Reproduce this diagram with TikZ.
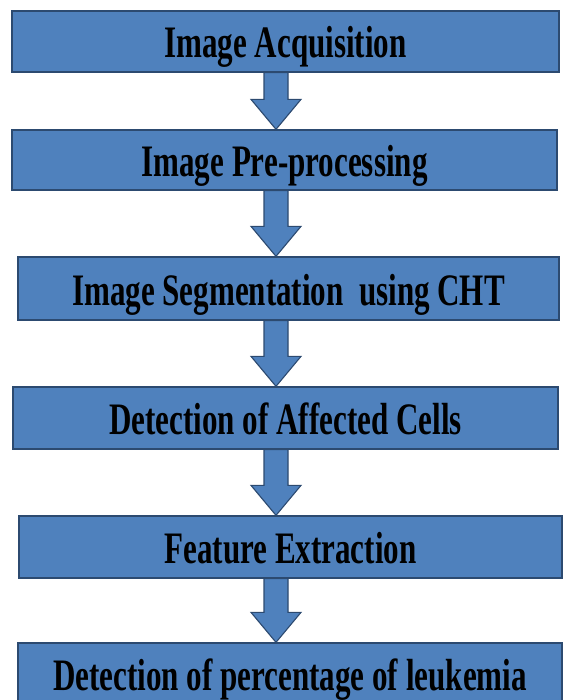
\documentclass[tikz,border=0pt]{standalone}
\usepackage{fontspec}
\usetikzlibrary{calc}
\newfontfamily\boxfont[FakeStretch=0.69]{Liberation Serif}
\definecolor{boxblue}{HTML}{4F81BD}
\definecolor{boxedge}{HTML}{2C4A70}
\tikzset{
  stagebox/.style={draw=boxedge, line width=1.3pt, fill=boxblue, rectangle,
    inner sep=0pt, text height=33pt, text depth=0pt,
    font=\boxfont\bfseries\fontsize{45}{48}\selectfont, text=black},
  blockarrow/.style={draw=boxedge, line width=1.1pt, fill=boxblue, line join=miter}
}
\newcommand{\flowarrow}[2]{%
  \path[blockarrow] let \p1=(#1.south), \p2=(#2.north) in
    (264pt,\y1) -- (288pt,\y1) -- (288pt,\y2+30pt) -- (301pt,\y2+30pt) --
    (276pt,\y2) -- (251pt,\y2+30pt) -- (264pt,\y2+30pt) -- cycle;}
\begin{document}
\begin{tikzpicture}[x=1pt,y=1pt]
\useasboundingbox (0,0) rectangle (563,-700);
\node[stagebox, minimum width=547pt, minimum height=61pt] (b1) at (285.5,-41.5) {Image Acquisition};
\node[stagebox, minimum width=545pt, minimum height=60pt] (b2) at (284.5,-160) {Image Pre-processing};
\node[stagebox, minimum width=541pt, minimum height=63pt] (b3) at (288.5,-288.5) {Image Segmentation\, using CHT};
\node[stagebox, minimum width=545pt, minimum height=62pt] (b4) at (285.5,-418) {Detection of Affected Cells};
\node[stagebox, minimum width=543pt, minimum height=62pt] (b5) at (290.5,-547) {Feature Extraction};
\node[stagebox, minimum width=544pt, minimum height=62pt] (b6) at (290,-674) {Detection of percentage of leukemia};
\flowarrow{b1}{b2}
\flowarrow{b2}{b3}
\flowarrow{b3}{b4}
\flowarrow{b4}{b5}
\flowarrow{b5}{b6}
\end{tikzpicture}
\end{document}
